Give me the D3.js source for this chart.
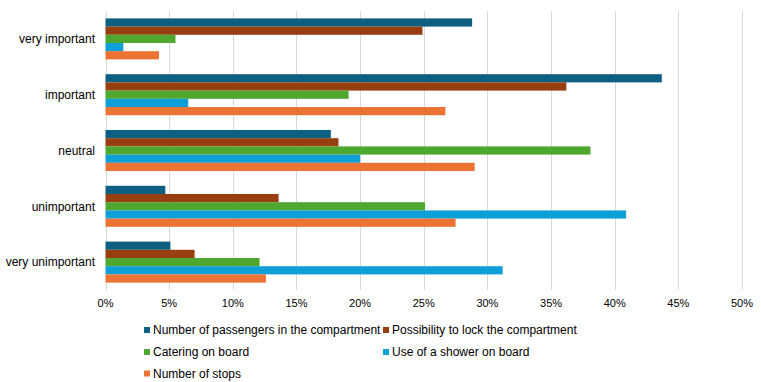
<!DOCTYPE html>
<html>
<head>
<meta charset="utf-8">
<script src="https://cdn.jsdelivr.net/npm/d3@7"></script>
<style>
  html, body { margin: 0; padding: 0; background: #fff; }
  svg { display: block; font-family: "Liberation Sans", Arial, sans-serif; }
</style>
</head>
<body>
<svg id="chart" width="761" height="382"></svg>
<script>
const categories = ["very important", "important", "neutral", "unimportant", "very unimportant"];
const seriesNames = [
  "Number of passengers in the compartment",
  "Possibility to lock the compartment",
  "Catering on board",
  "Use of a shower on board",
  "Number of stops"
];
const passengers = [28.8, 43.7, 17.7, 4.7, 5.1];
const lock       = [24.9, 36.2, 18.3, 13.6, 7.0];
const catering   = [5.5, 19.1, 38.1, 25.1, 12.1];
const shower     = [1.4, 6.5, 20.0, 40.9, 31.2];
const stops      = [4.2, 26.7, 29.0, 27.5, 12.6];
const seriesValues = [passengers, lock, catering, shower, stops];
const colors = ["#0E6082", "#983F12", "#4EA72E", "#0F9FD7", "#EB7434"];
const tickValues = [0, 5, 10, 15, 20, 25, 30, 35, 40, 45, 50];

const svg = d3.select("#chart");
const x = d3.scaleLinear().domain([0, 50]).range([105.5, 742]);
const y = d3.scaleBand().domain(categories).range([11, 290]).paddingInner(0.265).paddingOuter(0.1325);
const ySub = d3.scaleBand().domain(d3.range(seriesNames.length)).range([0, y.bandwidth()]);

// gridlines
svg.append("g").selectAll("line").data(tickValues).join("line")
  .attr("x1", d => Math.round(x(d)) + 0.5).attr("x2", d => Math.round(x(d)) + 0.5)
  .attr("y1", 11).attr("y2", 290)
  .attr("stroke", "#d9d9d9").attr("stroke-width", 1);

// bars
const groups = svg.append("g").selectAll("g").data(categories).join("g")
  .attr("transform", d => `translate(0,${y(d)})`);
groups.each(function(cat, ci) {
  d3.select(this).selectAll("rect").data(seriesValues.map((s, si) => ({si, v: s[ci]}))).join("rect")
    .attr("x", x(0))
    .attr("y", d => ySub(d.si))
    .attr("width", d => x(d.v) - x(0))
    .attr("height", ySub.bandwidth())
    .attr("fill", d => colors[d.si]);
});

// category labels
svg.append("g").selectAll("text").data(categories).join("text")
  .attr("x", 95).attr("y", d => y(d) + y.bandwidth() / 2)
  .attr("dy", "0.35em").attr("text-anchor", "end")
  .attr("font-size", 12).attr("fill", "#000")
  .text(d => d);

// x axis tick labels
svg.append("g").selectAll("text").data(tickValues).join("text")
  .attr("x", d => x(d)).attr("y", 303)
  .attr("dy", "0.35em").attr("text-anchor", "middle")
  .attr("font-size", 11).attr("fill", "#000")
  .text(d => d + "%");

// legend
const legendPos = [
  {x: 144, y: 330}, {x: 383, y: 330},
  {x: 144, y: 352}, {x: 383, y: 352},
  {x: 144, y: 373.5}
];
const lg = svg.append("g").selectAll("g").data(seriesNames).join("g")
  .attr("transform", (d, i) => `translate(${legendPos[i].x},${legendPos[i].y})`);
lg.append("rect").attr("x", 0).attr("y", -3).attr("width", 6).attr("height", 6)
  .attr("fill", (d, i) => colors[i]);
lg.append("text").attr("x", 9).attr("y", 0).attr("dy", "0.35em")
  .attr("font-size", 12).attr("fill", "#000").text(d => d);
</script>
</body>
</html>
